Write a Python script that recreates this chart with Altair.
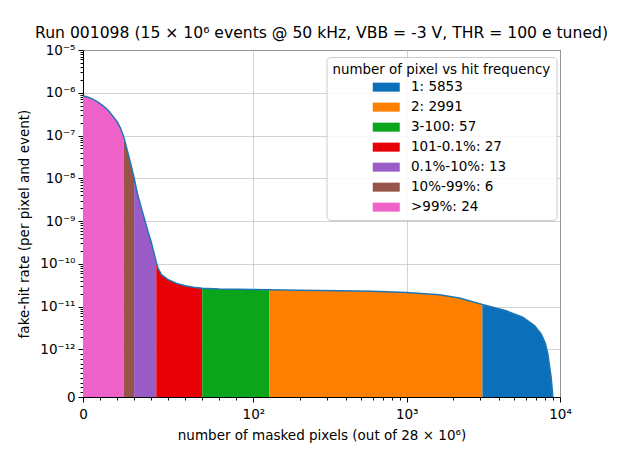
import math
import altair as alt
import pandas as pd

# ---- data ----
pixels = [0, 3, 6, 9, 12, 15, 18, 20, 22, 24, 26, 28, 30, 32, 34, 36, 38, 40, 42, 43,
          44, 46, 50, 55, 60, 65, 70, 80, 100, 127, 200, 364, 600, 1000, 1634, 2207,
          3118, 3700, 4450, 5710, 6810, 7530, 8030, 8320, 8750, 8900, 8971]
rate = [8.5e-7, 7.9e-7, 7.0e-7, 6.0e-7, 4.9e-7, 3.8e-7, 2.7e-7, 2.1e-7, 1.5e-7, 9.0e-8,
        4.5e-8, 2.2e-8, 1.03e-8, 4.3e-9, 2.2e-9, 1.15e-9, 6.0e-10, 3.3e-10, 1.6e-10, 1.1e-10,
        8.0e-11, 5.6e-11, 4.3e-11, 3.5e-11, 3.1e-11, 2.85e-11, 2.7e-11, 2.6e-11, 2.52e-11, 2.48e-11,
        2.43e-11, 2.36e-11, 2.28e-11, 2.15e-11, 1.9e-11, 1.6e-11,
        1.12e-11, 9.6e-12, 8.0e-12, 5.7e-12, 3.6e-12, 2.3e-12, 1.37e-12, 9.2e-13, 4.2e-13, 1.6e-13, 0.0]

cat_labels = ["1: 5853", "2: 2991", "3-100: 57", "101-0.1%: 27", "0.1%-10%: 13", "10%-99%: 6", ">99%: 24"]
cat_counts = [5853, 2991, 57, 27, 13, 6, 24]
cat_colors = ["#0b6fba", "#ff7f00", "#0aa51a", "#e80008", "#9a5cc6", "#975448", "#ee62ca"]

x_major = [0, 100, 1000, 10000]
x_major_labels = ["0", "10²", "10³", "10⁴"]
y_major = [0, 1e-12, 1e-11, 1e-10, 1e-9, 1e-8, 1e-7, 1e-6, 1e-5]
y_major_labels = ["0", "10⁻¹²", "10⁻¹¹", "10⁻¹⁰", "10⁻⁹", "10⁻⁸", "10⁻⁷", "10⁻⁶", "10⁻⁵"]

X_LIN = 100.0      # symlog linear threshold (x)
Y_LIN = 1e-12      # symlog linear threshold (y)
LS = 10.0 / 9.0    # length of linear part in decades (linscale = 1)


def fwd(v, lin):
    return round(v / lin * LS if v <= lin else LS + math.log10(v / lin), 6)


x_minor = [k * 10 for k in range(1, 10)] + [k * 100 for k in range(2, 10)] + [k * 1000 for k in range(2, 10)]
y_minor = [k * 1e-13 for k in range(1, 10)] + [k * 10.0 ** e for e in range(-12, -5) for k in range(2, 10)]

x_major_pos = [fwd(v, X_LIN) for v in x_major]
y_major_pos = [fwd(v, Y_LIN) for v in y_major]
x_minor_pos = [fwd(v, X_LIN) for v in x_minor]
y_minor_pos = [fwd(v, Y_LIN) for v in y_minor]


def label_expr(pos, labs):
    s = ""
    for p, l in zip(pos, labs):
        s += f"abs(datum.value - {p}) < 0.001 ? '{l}' : "
    return s + "''"


def major_test(pos):
    return " || ".join(f"abs(datum.value - {p}) < 0.001" for p in pos)


# ---- tables ----
curve = pd.DataFrame({"pixels": pixels, "rate": rate})

rows = []
lo = 0
for lab, cnt in zip(reversed(cat_labels), reversed(cat_counts)):
    hi = lo + cnt
    for p, r in zip(pixels, rate):
        if lo <= p <= hi:
            rows.append({"pixels": p, "rate": r, "cat": lab})
    lo = hi
seg = pd.DataFrame(rows)

fx = f"datum.pixels <= {X_LIN} ? datum.pixels / {X_LIN} * {LS} : {LS} + log(datum.pixels / {X_LIN}) / LN10"
fy = f"datum.rate <= {Y_LIN} ? datum.rate / {Y_LIN} * {LS} : {LS} + log(datum.rate / {Y_LIN}) / LN10"

x_scale = alt.Scale(domain=[0, fwd(1e4, X_LIN)], nice=False, zero=False)
y_scale = alt.Scale(domain=[0, fwd(1e-5, Y_LIN)], nice=False, zero=False)

x_axis = alt.Axis(
    values=x_major_pos + x_minor_pos, labelExpr=label_expr(x_major_pos, x_major_labels),
    tickSize={"condition": {"test": major_test(x_major_pos), "value": 5}, "value": 3},
    gridOpacity={"condition": {"test": major_test(x_major_pos), "value": 0.75}, "value": 0},
    grid=True, orient="bottom",
    title="number of masked pixels (out of 28 × 10⁶)", titlePadding=8,
    labelPadding=5, labelOverlap=False, labelFlush=False)
y_axis = alt.Axis(
    values=y_major_pos + y_minor_pos, labelExpr=label_expr(y_major_pos, y_major_labels),
    tickSize={"condition": {"test": major_test(y_major_pos), "value": 5}, "value": 3},
    gridOpacity={"condition": {"test": major_test(y_major_pos), "value": 0.75}, "value": 0},
    grid=True, orient="left",
    title="fake-hit rate (per pixel and event)", titlePadding=8,
    labelPadding=3, labelOverlap=False, labelFlush=False)

rect_path = "M-3,-1L3,-1L3,1L-3,1Z"

areas = alt.Chart(seg).transform_calculate(fx=fx, fy=fy).mark_area(
    interpolate="linear", opacity=1
).encode(
    x=alt.X("fx:Q", scale=x_scale, axis=x_axis),
    y=alt.Y("fy:Q", scale=y_scale, axis=y_axis, stack=None),
    color=alt.Color("cat:N", scale=alt.Scale(domain=cat_labels, range=cat_colors),
                    legend=alt.Legend(
                        title="number of pixel vs hit frequency", orient="none",
                        legendX=243.5, legendY=7, fillColor="rgba(255,255,255,0.85)",
                        strokeColor="#cccccc", cornerRadius=4, padding=6,
                        titleFontSize=13.4, titleFontWeight="normal", titleColor="black",
                        titleAnchor="start", titlePadding=4, titleLimit=400,
                        labelFontSize=13.5, labelColor="black", labelLimit=300,
                        symbolType=rect_path, symbolSize=81, symbolStrokeWidth=0,
                        symbolOpacity=1, symbolOffset=47, labelOffset=18,
                        rowPadding=5, zindex=3)),
)

line = alt.Chart(curve).transform_calculate(fx=fx, fy=fy).mark_line(
    color="#1f77b4", strokeWidth=1.5, interpolate="linear"
).encode(
    x=alt.X("fx:Q", scale=x_scale, axis=x_axis),
    y=alt.Y("fy:Q", scale=y_scale, axis=y_axis),
)

chart = alt.layer(areas, line).properties(
    width=477, height=347,
    title=alt.TitleParams(
        "Run 001098 (15 × 10⁶ events @ 50 kHz, VBB = -3 V, THR = 100 e tuned)",
        fontSize=15.6, fontWeight="normal", color="black", anchor="middle", offset=1,
        frame="group"),
    autosize=alt.AutoSizeParams(type="none"),
    padding={"left": 75, "top": 42, "right": 53, "bottom": 67},
).configure(font="DejaVu Sans").configure_view(
    stroke="black", strokeWidth=1
).configure_axis(
    labelFont="DejaVu Sans", labelFontSize=13.5, labelColor="black",
    titleFont="DejaVu Sans", titleFontSize=13.5, titleFontWeight="normal", titleColor="black",
    tickColor="black", domainColor="black", gridColor="#c4c4c4", gridWidth=1, zindex=1,
)

chart.save("out.html", embed_options={"renderer": "svg", "actions": False})
